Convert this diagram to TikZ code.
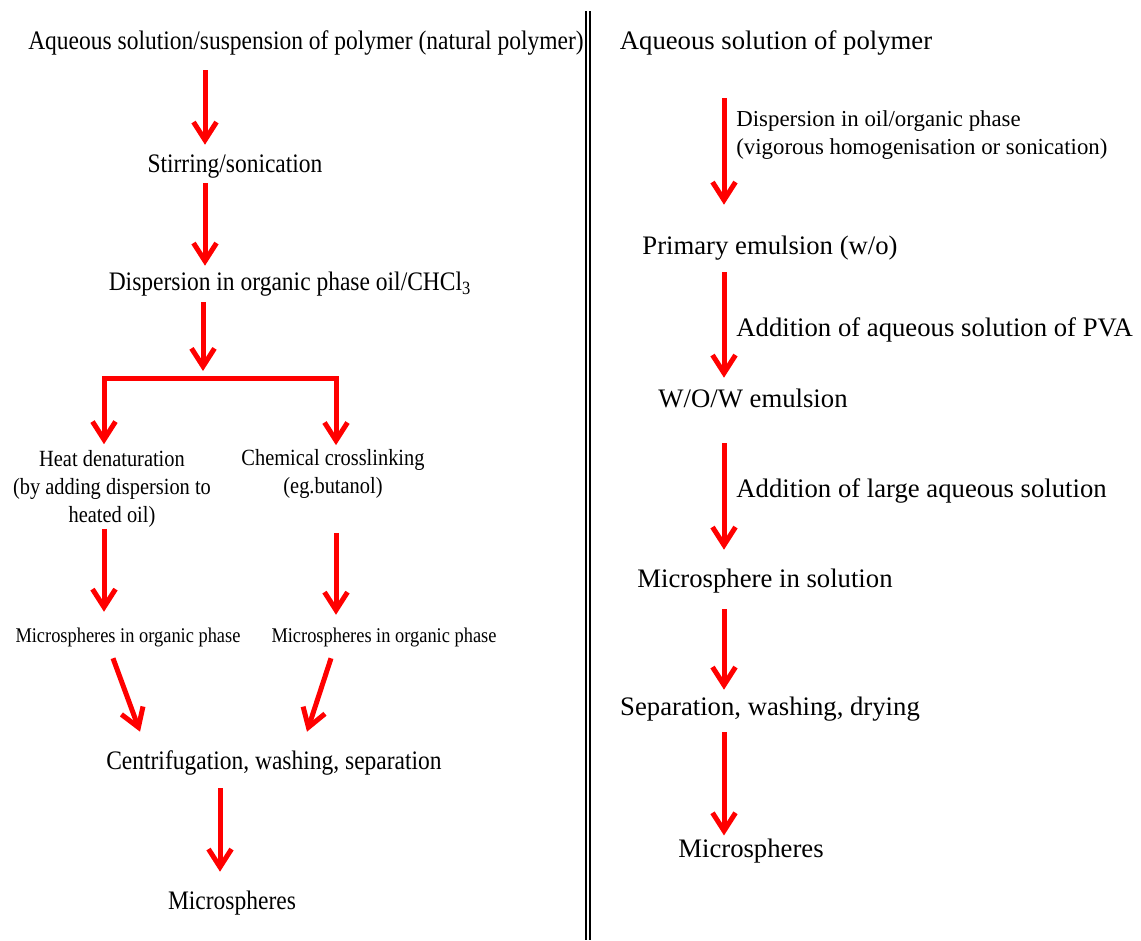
\documentclass[tikz,border=0pt]{standalone}
\usepackage{fontspec}
\setmainfont{Liberation Serif}
\newfontfamily\narrowserif{Liberation Serif}[FakeStretch=0.88]
\usepackage{tikz}
\usetikzlibrary{arrows.meta}

\begin{document}
\begin{tikzpicture}[
  x=0.02cm, y=-0.02cm,
  lstep/.style={font=\narrowserif\fontsize{15.2}{18}\selectfont, inner sep=0pt, text height=12.3pt, text depth=1.6pt},
  lsub/.style={font=\narrowserif\fontsize{13.2}{15.9}\selectfont, inner sep=0pt, align=center},
  lsmall/.style={font=\narrowserif\fontsize{11.9}{14}\selectfont, inner sep=0pt, text height=9.8pt, text depth=0.9pt},
  rstep/.style={font=\fontsize{15.2}{18}\selectfont, inner sep=0pt, text height=12.3pt, text depth=1.6pt},
  rnote/.style={font=\fontsize{13}{16.4}\selectfont, inner sep=0pt, align=left, anchor=west},
  flow/.style={draw=red, line width=0.1cm, -{Straight Barb[length=0.36cm,width=0.46cm]}},
  divider/.style={draw=black, line width=0.03cm}
]
\useasboundingbox (0,0) rectangle (1141,940);

% left route
\node[lstep] (ltitle) at (306,40) {Aqueous solution/suspension of polymer (natural polymer)};
\node[lstep] (lstir)  at (235,163) {Stirring/sonication};
\node[lstep] (ldisp)  at (290,281) {Dispersion in organic phase oil/CHCl\textsubscript{3}};
\node[lsub]  (lheat)  at (112,489) {Heat denaturation\\(by adding dispersion to\\heated oil)};
\node[lsub]  (lchem)  at (333,474) {Chemical crosslinking\\(eg.butanol)};
\node[lsmall] (lms1)  at (128,635) {Microspheres in organic phase};
\node[lsmall] (lms2)  at (384,635) {Microspheres in organic phase};
\node[lstep] (lcent)  at (274,760) {Centrifugation, washing, separation};
\node[lstep] (lmicro) at (232,900) {Microspheres};

\coordinate (xa) at (205,0);
\coordinate (xh) at (104,0);
\coordinate (xc) at (336,0);
\coordinate (xf) at (220,0);
\coordinate (fork) at (203,378);

\draw[flow, shorten <=0.355cm, shorten >=0.115cm] (ltitle.south -| xa) -- (lstir.north -| xa);
\draw[flow, shorten <=0.155cm, shorten >=0.055cm] (lstir.south -| xa) -- (ldisp.north -| xa);
\draw[flow, shorten <=0.175cm, shorten >=0.14cm] (ldisp.south -| fork) -- (fork);
\draw[flow, shorten >=0.12cm] (fork) -| (lheat.north -| xh);
\draw[flow, shorten >=0.08cm] (fork) -| (lchem.north -| xc);
\draw[flow, shorten <=0.02cm, shorten >=0.27cm] (lheat.south -| xh) -- (lms1.north -| xh);
\draw[flow, shorten <=0.68cm, shorten >=0.21cm] (lchem.south -| xc) -- (lms2.north -| xc);
\draw[flow] ([xshift=-0.30cm,yshift=-0.27cm]lms1.south) -- ([xshift=-2.68cm,yshift=0.315cm]lcent.north);
\draw[flow] ([xshift=-1.06cm,yshift=-0.27cm]lms2.south) -- ([xshift=0.66cm,yshift=0.315cm]lcent.north);
\draw[flow, shorten <=0.315cm, shorten >=0.315cm] (lcent.south -| xf) -- (lmicro.north -| xf);

% divider
\draw[divider] (586,11) -- (586,940);
\draw[divider] (590,11) -- (590,940);

% right route
\node[rstep] (rtitle) at (776,40) {Aqueous solution of polymer};
\node[rnote] (rlab1)  at (736,135) {Dispersion in oil/organic phase\\(vigorous homogenisation or sonication)};
\node[rstep] (rprim)  at (770,245) {Primary emulsion (w/o)};
\node[rstep, anchor=west] (rlab2) at (736,327) {Addition of aqueous solution of PVA};
\node[rstep] (rwow)   at (753,398) {W/O/W emulsion};
\node[rstep, anchor=west] (rlab3) at (736,488) {Addition of large aqueous solution};
\node[rstep] (rmsol)  at (765,578) {Microsphere in solution};
\node[rstep] (rsep)   at (770,706) {Separation, washing, drying};
\node[rstep] (rmicro) at (751,848) {Microspheres};

\coordinate (xr) at (724,0);

\draw[flow, shorten <=0.915cm, shorten >=0.555cm] (rtitle.south -| xr) -- (rprim.north -| xr);
\draw[flow, shorten <=0.295cm, shorten >=0.155cm] (rprim.south -| xr) -- (rwow.north -| xr);
\draw[flow, shorten <=0.655cm, shorten >=0.315cm] (rwow.south -| xr) -- (rmsol.north -| xr);
\draw[flow, shorten <=0.375cm, shorten >=0.075cm] (rmsol.south -| xr) -- (rsep.north -| xr);
\draw[flow, shorten <=0.275cm] (rsep.south -| xr) -- (rmicro.north -| xr);
\end{tikzpicture}
\end{document}
